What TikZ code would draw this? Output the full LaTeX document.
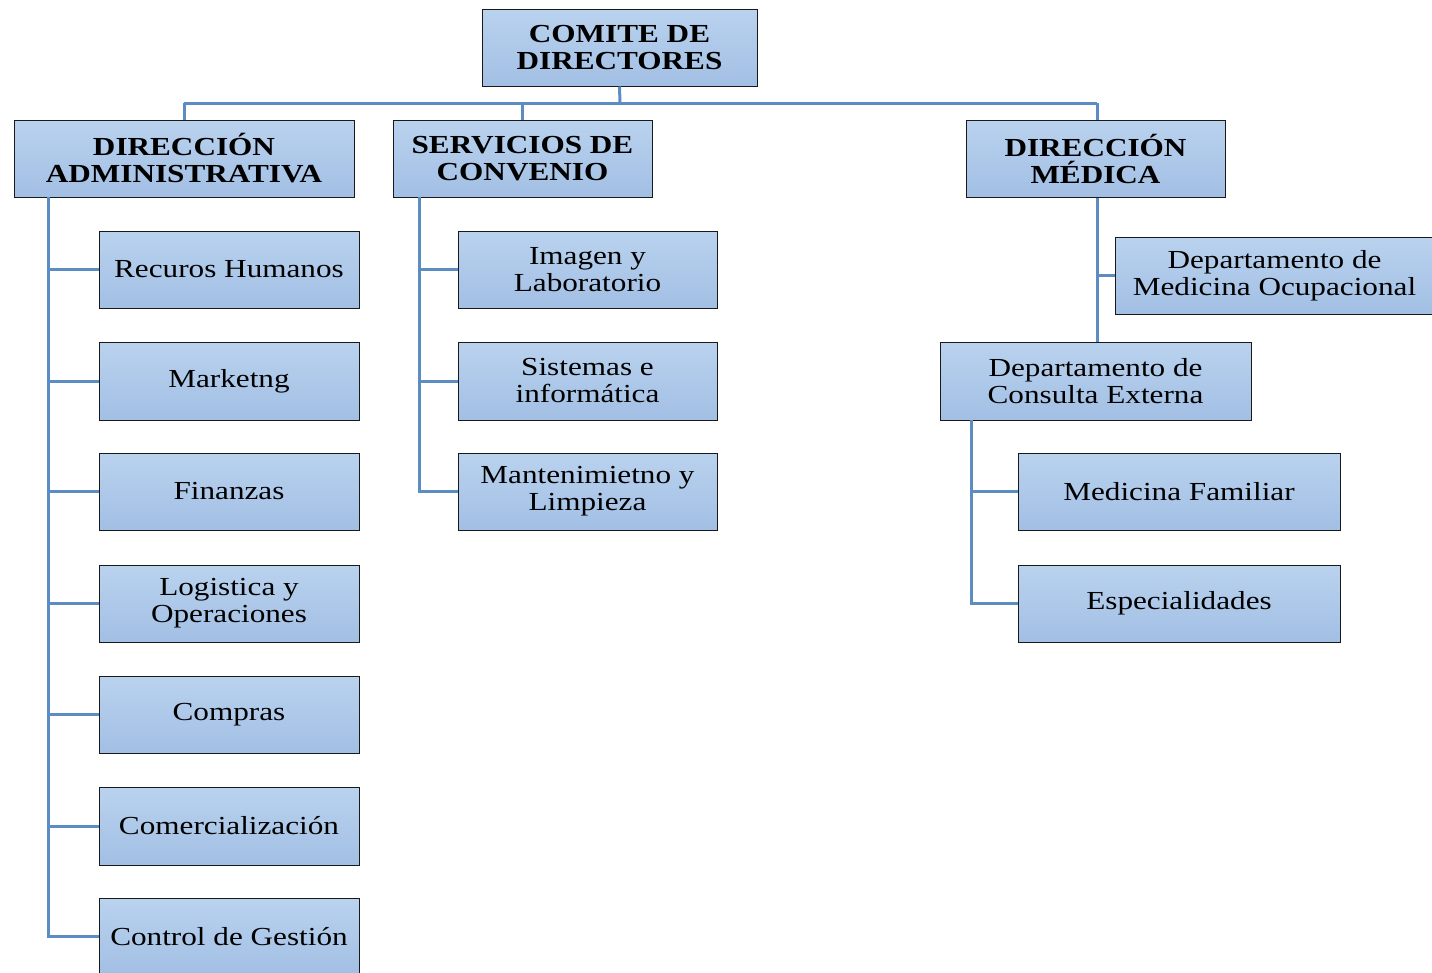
\documentclass[tikz,border=0pt]{standalone}
\usepackage{fontspec}
\setmainfont[FakeStretch=1.2]{Liberation Serif}
\definecolor{linec}{HTML}{5B8DC3}
\definecolor{topc}{HTML}{B9D2EE}
\definecolor{botc}{HTML}{A2BFE4}
\tikzset{
  box/.style={rectangle, top color=topc, bottom color=botc, draw=black!90, line width=1pt,
    inner sep=0pt, align=center, font=\fontsize{26}{27}\selectfont},
  head/.style={box, font=\fontsize{26}{27}\selectfont\bfseries},
  conn/.style={draw=linec, line width=3pt}
}
\newcommand{\bx}[7]{% style,name,x1,y1,x2,y2,text
  \node[#1, minimum width={#5-#3}, minimum height={#6-#4}] (#2) at ({(#3+#5)/2},{(#4+#6)/2}) {#7};}
\begin{document}
\begin{tikzpicture}[x=1pt,y=-1pt]
\useasboundingbox (0,0) rectangle (1432,972);
\coordinate (bus) at (620,103);
\coordinate (busL) at (184,103);
\coordinate (busM) at (522,103);
\coordinate (busR) at (1097,103);
\coordinate (tA) at (48,197);
\coordinate (tS) at (419,197);
\coordinate (tC) at (971,420);

\bx{head}{comite}{482}{9}{757}{86}{COMITE DE\\DIRECTORES}
\bx{head}{adm}{14}{120}{354}{197}{DIRECCIÓN\\ADMINISTRATIVA}
\bx{head}{serv}{393}{120}{652}{197}{SERVICIOS DE\\CONVENIO}
\bx{head}{med}{966}{120}{1225}{197}{DIRECCIÓN\\MÉDICA}

\bx{box}{a1}{99}{231}{359}{308}{Recuros Humanos}
\bx{box}{a2}{99}{342}{359}{420}{Marketng}
\bx{box}{a3}{99}{453}{359}{530}{Finanzas}
\bx{box}{a4}{99}{565}{359}{642}{Logistica y\\Operaciones}
\bx{box}{a5}{99}{676}{359}{753}{Compras}
\bx{box}{a6}{99}{787}{359}{865}{Comercialización}
\bx{box}{a7}{99}{898}{359}{975}{Control de Gestión}

\bx{box}{s1}{458}{231}{717}{308}{Imagen y\\Laboratorio}
\bx{box}{s2}{458}{342}{717}{420}{Sistemas e\\informática}
\bx{box}{s3}{458}{453}{717}{530}{Mantenimietno y\\Limpieza}

\bx{box}{mo}{1115}{237}{1434}{314}{Departamento de\\Medicina Ocupacional}
\bx{box}{ce}{940}{342}{1251}{420}{Departamento de\\Consulta Externa}
\bx{box}{mf}{1018}{453}{1340}{530}{Medicina Familiar}
\bx{box}{es}{1018}{565}{1340}{642}{Especialidades}

\draw[conn] (comite.south) -- (bus);
\draw[conn] (busL) -- (busR);
\draw[conn] (busL) -- (adm.north -| busL);
\draw[conn] (busM) -- (serv.north -| busM);
\draw[conn] (busR) -- (med.north -| busR);

\draw[conn] (tA) |- (a7.west);
\foreach \n in {a1,a2,a3,a4,a5,a6} \draw[conn] (tA |- \n.west) -- (\n.west);
\draw[conn] (tS) |- (s3.west);
\foreach \n in {s1,s2} \draw[conn] (tS |- \n.west) -- (\n.west);
\draw[conn] (med.south -| busR) -- (ce.north -| busR);
\draw[conn] (busR |- mo.west) -- (mo.west);
\draw[conn] (tC) |- (es.west);
\draw[conn] (tC |- mf.west) -- (mf.west);
\end{tikzpicture}
\end{document}
